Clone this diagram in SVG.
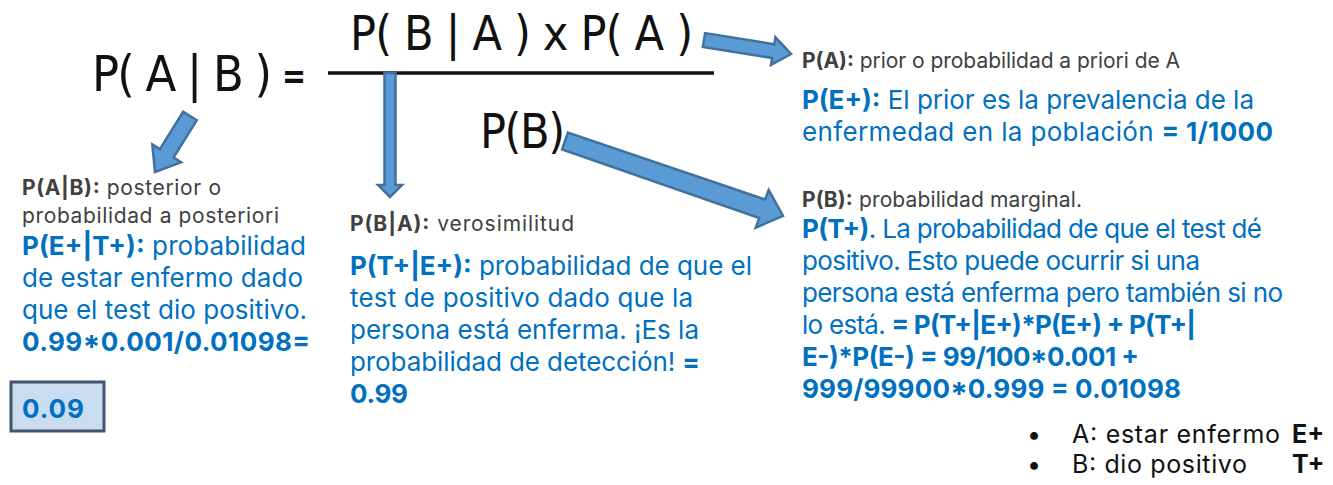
<svg xmlns="http://www.w3.org/2000/svg" width="1333" height="485" viewBox="0 0 1333 485">
<style>
.f{font-family:"Liberation Sans Narrow","DejaVu Sans Condensed","Liberation Sans",sans-serif;fill:#111;}
.t{font-family:Inter,"Noto Sans","Liberation Sans",sans-serif;}
.g{fill:#404040;font-size:21px;}
.b{fill:#0070c0;font-size:26px;}
.k{fill:#111;font-size:25px;}
.bd{font-weight:700;}
.arr{fill:#5b9bd5;stroke:#41719c;stroke-width:2.5;stroke-linejoin:miter;}
</style>
<rect width="1333" height="485" fill="#fff"/>

<g id="formula">
  <text class="f" x="92" y="91" font-size="50" textLength="180">P( A | B )</text>
  <text class="f" x="282" y="88" font-size="36" font-weight="700" textLength="24" lengthAdjust="spacingAndGlyphs">=</text>
  <text class="f" x="350" y="50" font-size="48" textLength="343">P( B | A ) x P( A )</text>
  <line x1="328" y1="73" x2="714" y2="73" stroke="#111" stroke-width="3.5"/>
  <text class="f" x="480" y="148" font-size="48" textLength="85">P(B)</text>
</g>

<g id="connectors">
  <polygon class="arr" points="702.9,46.9 705.1,33.1 774.3,44.2 775.4,37.3 791,54 771,64.9 772.1,58 "/>
  <polygon class="arr" points="196.8,120.2 183.2,111.8 159.9,149.1 152.3,144.3 155,172 181.1,162.3 173.5,157.5"/>
  <polygon class="arr" points="384.5,73 395.5,73 395.5,185 402,185 390,197 378,185 384.5,185"/>
  <polygon class="arr" points="562.1,149.5 567.9,132.5 765.1,199.5 768.7,189.9 783,216 755.7,227.7 759.3,218.1"/>
</g>

<g id="posterior">
  <text class="t g" x="22" y="195" textLength="199"><tspan class="bd">P(A|B):</tspan> posterior o</text>
  <text class="t g" x="22" y="223" textLength="257">probabilidad a posteriori</text>
  <text class="t b" x="22" y="255" textLength="284"><tspan class="bd">P(E+|T+):</tspan> probabilidad</text>
  <text class="t b" x="22" y="287" textLength="281">de estar enfermo dado</text>
  <text class="t b" x="22" y="319" textLength="285">que el test dio positivo.</text>
  <text class="t b bd" x="22" y="351" textLength="288">0.99*0.001/0.01098=</text>
</g>

<g id="result">
  <rect x="11" y="382" width="93" height="49" fill="#c9dcf0" stroke="#44546a" stroke-width="3"/>
  <text class="t b bd" x="22" y="418" textLength="62">0.09</text>
</g>

<g id="likelihood">
  <text class="t g" x="350" y="231" textLength="224"><tspan class="bd">P(B|A):</tspan> verosimilitud</text>
  <text class="t b" x="350" y="275" textLength="402"><tspan class="bd">P(T+|E+):</tspan> probabilidad de que el</text>
  <text class="t b" x="350" y="307" textLength="343">test de positivo dado que la</text>
  <text class="t b" x="350" y="339" textLength="349">persona está enferma. ¡Es la</text>
  <text class="t b" x="350" y="371" textLength="350">probabilidad de detección! <tspan class="bd">=</tspan></text>
  <text class="t b bd" x="350" y="403" textLength="58">0.99</text>
</g>

<g id="prior">
  <text class="t g" x="802" y="68" textLength="378"><tspan class="bd">P(A):</tspan> prior o probabilidad a priori de A</text>
  <text class="t b" x="802" y="109" textLength="452"><tspan class="bd">P(E+):</tspan> El prior es la prevalencia de la</text>
  <text class="t b" x="802" y="141" textLength="471">enfermedad en la población <tspan class="bd">= 1/1000</tspan></text>
</g>

<g id="marginal">
  <text class="t g" x="802" y="207" textLength="280"><tspan class="bd">P(B):</tspan> probabilidad marginal.</text>
  <text class="t b" x="802" y="238" textLength="460"><tspan class="bd">P(T+)</tspan>. La probabilidad de que el test dé</text>
  <text class="t b" x="802" y="270" textLength="398">positivo. Esto puede ocurrir si una</text>
  <text class="t b" x="802" y="302" textLength="481">persona está enferma pero también si no</text>
  <text class="t b" x="802" y="334" textLength="394">lo está. <tspan class="bd">= P(T+|E+)*P(E+) + P(T+|</tspan></text>
  <text class="t b bd" x="802" y="366" textLength="337">E-)*P(E-) = 99/100*0.001 +</text>
  <text class="t b bd" x="802" y="398" textLength="379">999/99900*0.999 = 0.01098</text>
</g>

<g id="legend">
  <text class="t k" x="1027" y="443">•</text>
  <text class="t k" x="1072" y="443" textLength="208">A: estar enfermo</text>
  <text class="t k bd" x="1292" y="443">E+</text>
  <text class="t k" x="1027" y="473">•</text>
  <text class="t k" x="1072" y="473" textLength="175">B: dio positivo</text>
  <text class="t k bd" x="1292" y="473">T+</text>
</g>
</svg>
